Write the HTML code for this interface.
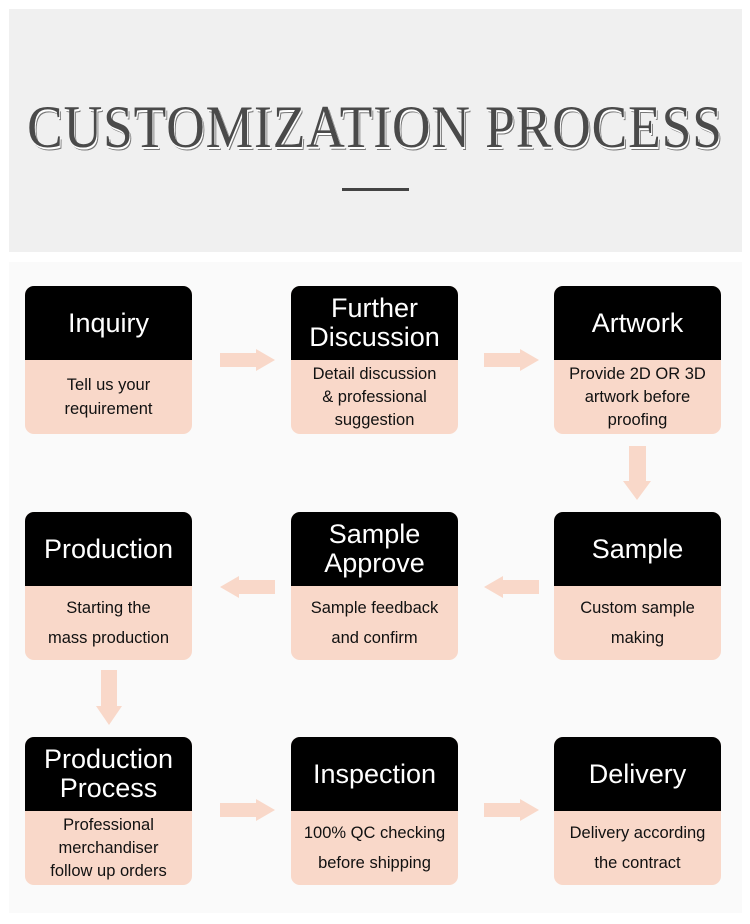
<!DOCTYPE html>
<html><head><style>
body{margin:0;width:750px;height:924px;background:#fff;position:relative;overflow:hidden;font-family:"Liberation Sans",sans-serif}
.top{position:absolute;left:9px;top:9px;width:733px;height:243px;background:#f0f0f0}
.bot{position:absolute;left:9px;top:262px;width:733px;height:651px;background:#fafafa}
.title{position:absolute;left:-100px;width:950px;top:92px;text-align:center;font-family:"Liberation Serif",serif;font-size:60px;line-height:70px;color:#4a4a4a;letter-spacing:1px;text-shadow:1px 2px 0 #fff,2px 3px 0 #777;transform:scaleX(0.89);white-space:nowrap}
.line{position:absolute;left:342px;top:188px;width:67px;height:3px;background:#444}
.box{position:absolute;width:167px;height:148px;border-radius:9px;overflow:hidden;background:#f9d8c9}
.hd{height:74px;background:#000;color:#fff;display:flex;align-items:center;justify-content:center;text-align:center;font-size:27px;line-height:29px}
.bd{height:74px;display:flex;align-items:center;justify-content:center;text-align:center;font-size:16.5px;line-height:24px;color:#111}
.bd.t{line-height:23px}
svg{position:absolute;left:0;top:0}
</style></head><body>
<div class="top"></div><div class="bot"></div>
<div class="title">CUSTOMIZATION PROCESS</div>
<div class="line"></div>

<div class="box" style="left:25px;top:286px"><div class="hd">Inquiry</div><div class="bd">Tell us your<br>requirement</div></div>
<div class="box" style="left:291px;top:286px"><div class="hd">Further<br>Discussion</div><div class="bd t">Detail discussion<br>&amp; professional<br>suggestion</div></div>
<div class="box" style="left:554px;top:286px"><div class="hd">Artwork</div><div class="bd t">Provide 2D OR 3D<br>artwork before<br>proofing</div></div>

<div class="box" style="left:25px;top:512px"><div class="hd">Production</div><div class="bd" style="line-height:30px">Starting the<br>mass production</div></div>
<div class="box" style="left:291px;top:512px"><div class="hd">Sample<br>Approve</div><div class="bd" style="line-height:30px">Sample feedback<br>and confirm</div></div>
<div class="box" style="left:554px;top:512px"><div class="hd">Sample</div><div class="bd" style="line-height:30px">Custom sample<br>making</div></div>

<div class="box" style="left:25px;top:737px"><div class="hd">Production<br>Process</div><div class="bd t">Professional<br>merchandiser<br>follow up orders</div></div>
<div class="box" style="left:291px;top:737px"><div class="hd">Inspection</div><div class="bd" style="line-height:30px">100% QC checking<br>before shipping</div></div>
<div class="box" style="left:554px;top:737px"><div class="hd">Delivery</div><div class="bd" style="line-height:30px">Delivery according<br>the contract</div></div>

<svg width="750" height="924" fill="#f9d8c9">
<polygon points="220,353 256,353 256,349 275,360 256,371 256,367 220,367"/>
<polygon points="484,353 520,353 520,349 539,360 520,371 520,367 484,367"/>
<polygon points="220,803 256,803 256,799 275,810 256,821 256,817 220,817"/>
<polygon points="484,803 520,803 520,799 539,810 520,821 520,817 484,817"/>
<polygon points="275,580 239,580 239,576 220,587 239,598 239,594 275,594"/>
<polygon points="539,580 503,580 503,576 484,587 503,598 503,594 539,594"/>
<polygon points="629,446 646,446 646,481 651,481 637,500 623,481 629,481"/>
<polygon points="101,670 117,670 117,706 122,706 109,725 96,706 101,706"/>
</svg>
</body></html>
